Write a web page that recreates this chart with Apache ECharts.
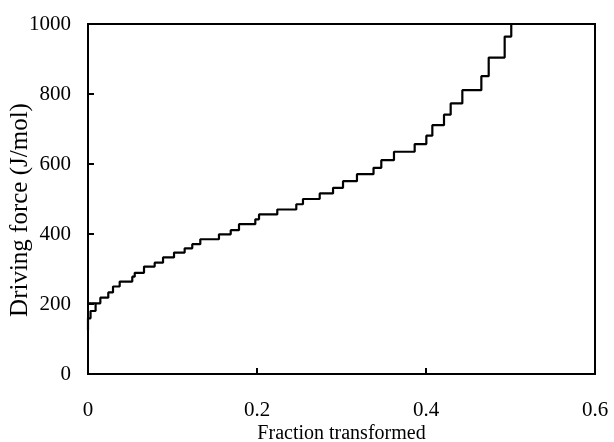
<!DOCTYPE html>
<html>
<head>
<meta charset="utf-8">
<script src="https://cdn.jsdelivr.net/npm/echarts@6/dist/echarts.min.js"></script>
<style>html,body{margin:0;padding:0;background:#fff;}#c{width:614px;height:442px;}</style>
</head>
<body>
<div id="c"></div>
<script>
// x positions where each step (rise) occurs
const stepX = [0, 0.003, 0.009, 0.0146, 0.024, 0.0296, 0.0375, 0.0524, 0.0553, 0.0663, 0.0789,
  0.0888, 0.1018, 0.1144, 0.1234, 0.1329, 0.155, 0.1689, 0.1787, 0.198, 0.2024, 0.224,
  0.2465, 0.2544, 0.2742, 0.29, 0.3018, 0.3183, 0.3379, 0.3471, 0.3621, 0.3866, 0.4004,
  0.4075, 0.4213, 0.4292, 0.443, 0.4655, 0.4742, 0.4931, 0.5009];
// driving-force level reached at each step
const levels = [159, 180, 202, 218, 233, 250, 264, 278, 289, 307, 318,
  333, 347, 359, 371, 385, 399, 411, 428, 442, 456, 470,
  485, 500, 516, 532, 551, 571, 589, 611, 635, 657, 681,
  711, 741, 773, 811, 851, 904, 964, 1010];
const startLevel = 126;
// short horizontal segment at the 200 J/mol level from x=0
const extraX = [0, 0.009];
const extraY = [202, 202];
const xTicks = ['0', '0.2', '0.4', '0.6'];
const yTicks = ['0', '200', '400', '600', '800', '1000'];

const pts = [[0, startLevel]];
let prev = startLevel;
for (let i = 0; i < stepX.length; i++) {
  pts.push([stepX[i], prev]);
  pts.push([stepX[i], levels[i]]);
  prev = levels[i];
}
const extra = extraX.map((x, i) => [x, extraY[i]]);

const font = 'Liberation Serif';
const chart = echarts.init(document.getElementById('c'));
chart.setOption({
  animation: false,
  backgroundColor: '#fff',
  grid: { left: 88, right: 19, top: 24, bottom: 68, show: true, borderColor: '#000', borderWidth: 2,
    containLabel: false, outerBoundsMode: 'none' },
  xAxis: {
    type: 'value', min: 0, max: 0.6, interval: 0.2,
    name: 'Fraction transformed', nameLocation: 'middle', nameGap: 50, nameMoveOverlap: false,
    nameTextStyle: { fontFamily: font, fontSize: 20, color: '#000' },
    axisLine: { lineStyle: { color: '#000', width: 2 } },
    axisTick: { inside: true, length: 6, lineStyle: { color: '#000', width: 2 } },
    axisLabel: { fontFamily: font, fontSize: 21, color: '#000', margin: 26,
      formatter: v => xTicks[Math.round(v / 0.2)] },
    splitLine: { show: false }
  },
  yAxis: {
    type: 'value', min: 0, max: 1000, interval: 200,
    name: 'Driving force (J/mol)', nameLocation: 'middle', nameGap: 55, nameMoveOverlap: false,
    nameTextStyle: { fontFamily: font, fontSize: 25, color: '#000', padding: [0, 22, 0, 0] },
    axisLine: { show: true, lineStyle: { color: '#000', width: 2 } },
    axisTick: { show: true, inside: true, length: 6, lineStyle: { color: '#000', width: 2 } },
    axisLabel: { fontFamily: font, fontSize: 21, color: '#000', margin: 17,
      formatter: v => yTicks[Math.round(v / 200)] },
    splitLine: { show: false }
  },
  series: [
    { type: 'line', data: pts, symbol: 'none', clip: true,
      lineStyle: { color: '#000', width: 2.2 } },
    { type: 'line', data: extra, symbol: 'none',
      lineStyle: { color: '#000', width: 2.2 } }
  ]
});
</script>
</body>
</html>
